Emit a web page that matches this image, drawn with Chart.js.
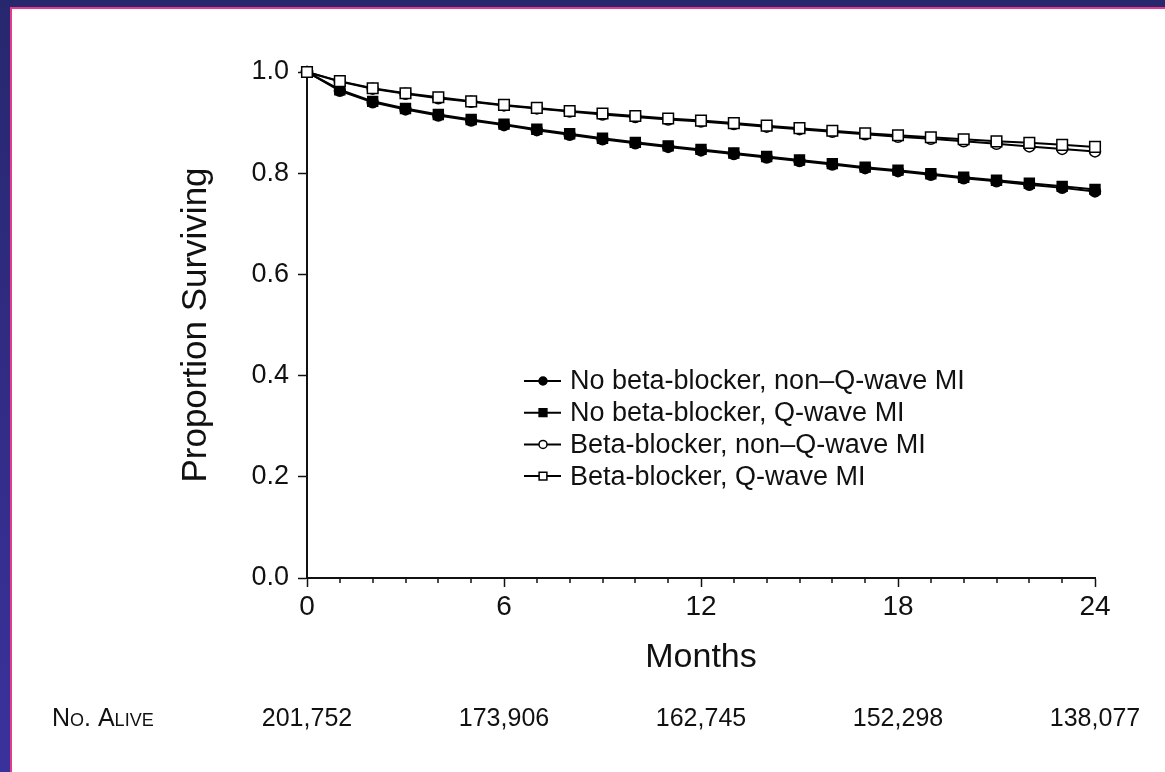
<!DOCTYPE html>
<html><head><meta charset="utf-8">
<script src="https://cdn.jsdelivr.net/npm/chart.js@4.4.0/dist/chart.umd.min.js"></script>
<style>
html,body{margin:0;padding:0;width:1165px;height:772px;overflow:hidden;background:#fff;}
#frame{position:absolute;left:0;top:0;width:1165px;height:772px;background:linear-gradient(#27276e,#3a329c);}
#panel{position:absolute;left:10px;top:7px;width:1153px;height:763px;background:#fff;border-left:2px solid #e23b8c;border-top:2px solid #e23b8c;}
canvas{position:absolute;left:0;top:0;}
</style></head><body>
<div id="frame"></div><div id="panel"></div>
<canvas id="c" width="1165" height="772"></canvas>
<script>
const months = [0,1,2,3,4,5,6,7,8,9,10,11,12,13,14,15,16,17,18,19,20,21,22,23,24];
const noBBNonQ = [1.000,0.963,0.940,0.926,0.914,0.904,0.895,0.885,0.876,0.867,0.859,0.852,0.845,0.838,0.831,0.824,0.817,0.810,0.804,0.797,0.790,0.784,0.777,0.771,0.764];
const noBBQ    = [1.000,0.965,0.942,0.928,0.916,0.906,0.897,0.887,0.878,0.869,0.861,0.854,0.847,0.840,0.833,0.826,0.819,0.812,0.806,0.799,0.792,0.786,0.780,0.774,0.768];
const bbNonQ   = [1.000,0.981,0.967,0.957,0.948,0.941,0.934,0.928,0.922,0.916,0.911,0.906,0.902,0.897,0.892,0.887,0.882,0.877,0.872,0.868,0.863,0.858,0.853,0.848,0.843];
const bbQ      = [1.000,0.982,0.968,0.958,0.950,0.942,0.935,0.929,0.923,0.918,0.913,0.908,0.904,0.899,0.894,0.889,0.884,0.879,0.875,0.871,0.867,0.863,0.860,0.856,0.852];
const seriesLabels = ['No beta-blocker, non\u2013Q-wave MI','No beta-blocker, Q-wave MI','Beta-blocker, non\u2013Q-wave MI','Beta-blocker, Q-wave MI'];
const xTickValues = [0,6,12,18,24];
const aliveCounts = ['201,752','173,906','162,745','152,298','138,077'];
const aliveLabel = 'No. Alive';

const FONT = "'Liberation Sans', Arial, Helvetica, sans-serif";
const TXT = '#111';

function pts(vals){ return months.map((m,i)=>({x:m,y:vals[i]})); }

const styles = [
  {pointStyle:'circle', radius:5.5, bg:'#000', lr:4, order:3},
  {pointStyle:'rect', radius:7, bg:'#000', lr:5.5, order:2},
  {pointStyle:'circle', radius:5.5, bg:'#fff', lr:4, order:1},
  {pointStyle:'rect', radius:7.5, bg:'#fff', lr:5.5, order:0}
];
const seriesData = [noBBNonQ, noBBQ, bbNonQ, bbQ];

const datasets = seriesData.map((v,i)=>({
  label: seriesLabels[i],
  data: pts(v),
  order: styles[i].order,
  borderColor:'#000',
  borderWidth:2,
  pointStyle: styles[i].pointStyle,
  pointRadius: styles[i].radius,
  pointBackgroundColor: styles[i].bg,
  pointBorderColor:'#000',
  pointBorderWidth:1.5,
  tension:0,
  clip:false
}));

const overlay = {
  id:'overlay',
  afterDraw(chart){
    const ctx = chart.ctx, xs = chart.scales.x, ca = chart.chartArea;
    ctx.save();
    // minor month ticks
    ctx.strokeStyle = '#111'; ctx.lineWidth = 1.5;
    months.forEach(m=>{
      if (xTickValues.includes(m)) return;
      const px = Math.round(xs.getPixelForValue(m));
      ctx.beginPath(); ctx.moveTo(px, ca.bottom); ctx.lineTo(px, ca.bottom + 5); ctx.stroke();
    });
    // legend
    const lx0 = 524, lx1 = 561, lm = 543, tx = 570;
    ctx.font = '27px ' + FONT; ctx.textBaseline = 'middle'; ctx.textAlign = 'left';
    seriesLabels.forEach((lab,i)=>{
      const y = 381 + i*31.7;
      ctx.strokeStyle = '#000'; ctx.lineWidth = 2;
      ctx.beginPath(); ctx.moveTo(lx0, y); ctx.lineTo(lx1, y); ctx.stroke();
      ctx.fillStyle = styles[i].bg; ctx.strokeStyle = '#000'; ctx.lineWidth = 1.5;
      Chart.helpers.drawPoint(ctx, {pointStyle: styles[i].pointStyle, radius: styles[i].lr, rotation:0, borderWidth:1.5}, lm, y);
      ctx.fillStyle = TXT;
      ctx.fillText(lab, tx, y + 1);
    });
    // No. Alive row
    const ry = 719;
    ctx.fillStyle = TXT; ctx.textBaseline = 'middle';
    ctx.font = 'small-caps 25px ' + FONT;
    ctx.textAlign = 'left';
    ctx.fillText(aliveLabel, 52, ry);
    ctx.font = '25px ' + FONT; ctx.textAlign = 'center';
    xTickValues.forEach((m,i)=>{
      ctx.fillText(aliveCounts[i], xs.getPixelForValue(m), ry);
    });
    ctx.restore();
  }
};

new Chart(document.getElementById('c'), {
  type:'line',
  data:{datasets},
  options:{
    responsive:false,
    animation:false,
    events:[],
    layout:{padding:{left:0, right:70, top:72, bottom:94}},
    plugins:{legend:{display:false}, tooltip:{enabled:false}},
    scales:{
      x:{
        type:'linear', min:0, max:24,
        afterBuildTicks(s){ s.ticks = xTickValues.map(v=>({value:v})); },
        afterFit(s){ s.height = 100; },
        ticks:{ font:{family:FONT, size:28}, color:TXT, padding:3, maxRotation:0, autoSkip:false },
        grid:{ drawOnChartArea:false, drawTicks:true, tickLength:9, tickColor:'#111', tickWidth:1.5 },
        border:{ display:true, color:'#111', width:2 },
        title:{ display:true, text:'Months', font:{family:FONT, size:34}, color:TXT, padding:{top:0,bottom:0} }
      },
      y:{
        min:0, max:1,
        ticks:{ stepSize:0.2, callback:v=>v.toFixed(1), font:{family:FONT, size:27}, color:TXT, padding:9 },
        afterFit(s){ s.width = 307; },
        grid:{ drawOnChartArea:false, drawTicks:true, tickLength:9, tickColor:'#111', tickWidth:1.5 },
        border:{ display:true, color:'#111', width:2 },
        title:{ display:true, text:'Proportion Surviving', font:{family:FONT, size:35}, color:TXT, padding:{top:175,bottom:0} }
      }
    }
  },
  plugins:[overlay]
});
</script>
</body></html>
